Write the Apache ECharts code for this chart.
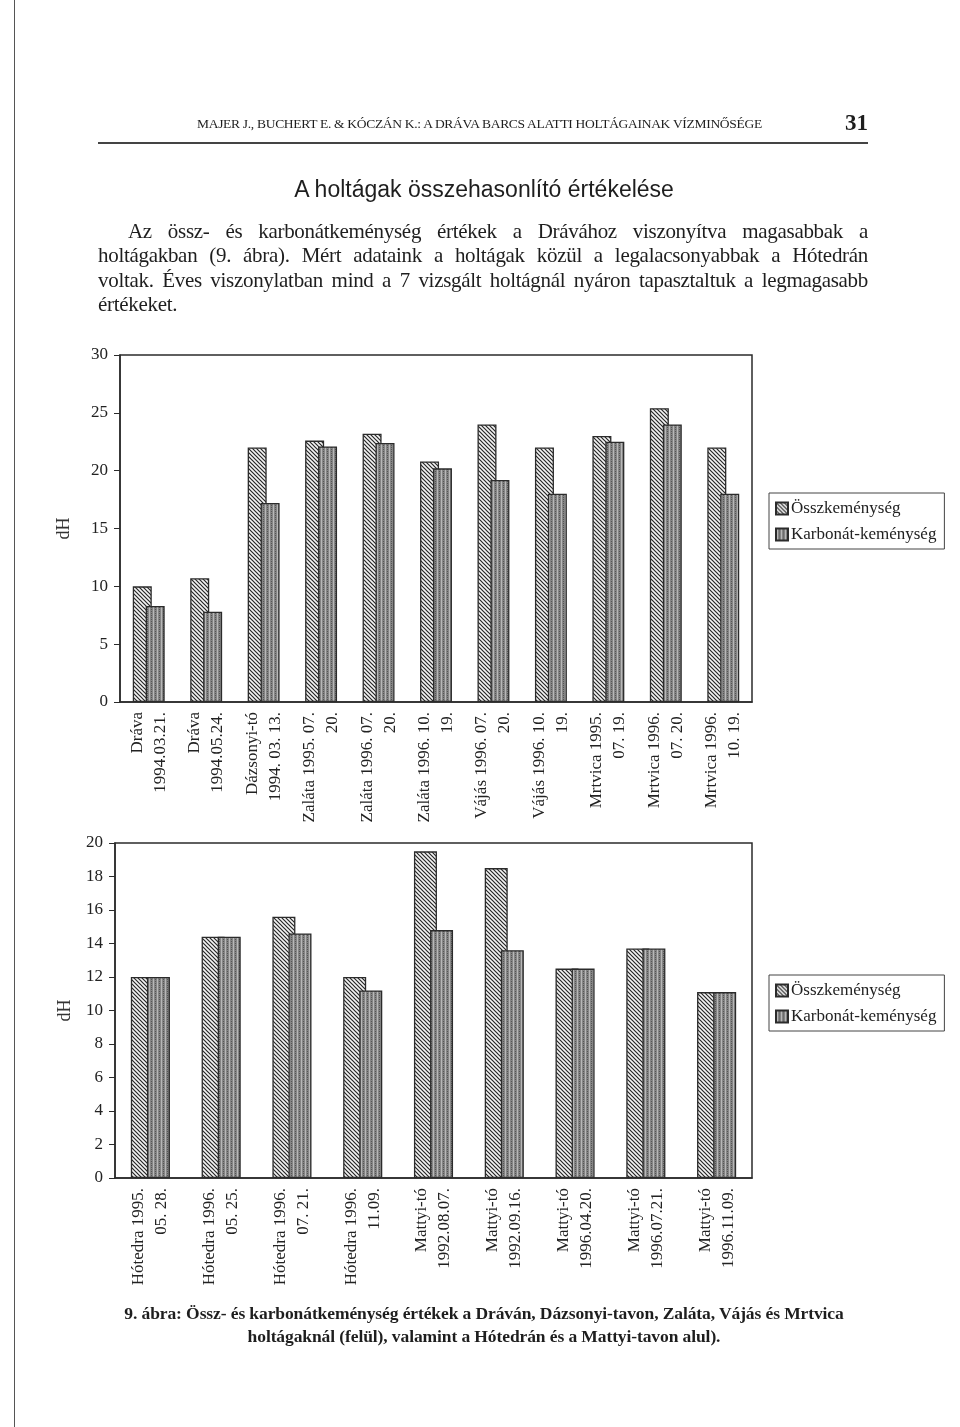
<!DOCTYPE html>
<html>
<head>
<meta charset="utf-8">
<script src="https://cdn.jsdelivr.net/npm/echarts@6/dist/echarts.min.js"></script>
<style>
  body { margin: 0; background: #fff; }
  #page { position: relative; width: 960px; height: 1427px; overflow: hidden; font-family: "Liberation Serif", "DejaVu Serif", serif; color: #1e1e1e; }
  #viz { position: absolute; left: 0; top: 0; width: 960px; height: 1427px; }
  .t { position: absolute; white-space: nowrap; }
  .jl { text-align: justify; text-align-last: justify; white-space: nowrap; }
</style>
</head>
<body>
<div id="page">
  <div id="viz"></div>
  <div style="position:absolute;left:14px;top:0;width:1px;height:1427px;background:#555"></div>
  <div class="t" style="left:197px;top:116px;font-size:13.5px;letter-spacing:-0.3px">MAJER J., BUCHERT E. &amp; KÓCZÁN K.: A DRÁVA BARCS ALATTI HOLTÁGAINAK VÍZMINŐSÉGE</div>
  <div class="t" style="left:845px;top:110px;font-size:23px;font-weight:bold">31</div>
  <div style="position:absolute;left:98px;top:142px;width:770px;border-top:2px solid #444"></div>
  <div class="t" style="left:0;width:968px;text-align:center;top:176px;font-family:'Liberation Sans',sans-serif;font-size:23px">A holtágak összehasonlító értékelése</div>
  <div style="position:absolute;left:98px;top:219px;width:770px;font-size:21px;letter-spacing:-0.3px;line-height:24.3px">
    <div class="jl" style="padding-left:30px">Az össz- és karbonátkeménység értékek a Drávához viszonyítva magasabbak a</div>
    <div class="jl">holtágakban (9. ábra). Mért adataink a holtágak közül a legalacsonyabbak a Hótedrán</div>
    <div class="jl">voltak. Éves viszonylatban mind a 7 vizsgált holtágnál nyáron tapasztaltuk a legmagasabb</div>
    <div>értékeket.</div>
  </div>
  <div style="position:absolute;left:0;width:968px;top:1302px;text-align:center;font-size:17.5px;font-weight:bold;line-height:23px;letter-spacing:-0.1px">
    <div>9. ábra: Össz- és karbonátkeménység értékek a Dráván, Dázsonyi-tavon, Zaláta, Vájás és Mrtvica</div>
    <div>holtágaknál (felül), valamint a Hótedrán és a Mattyi-tavon alul).</div>
  </div>
</div>
<script>
// felső ábra
const topCats = [
  'Dráva\n1994.03.21.', 'Dráva\n1994.05.24.', 'Dázsonyi-tó\n1994. 03. 13.',
  'Zaláta 1995. 07.\n20.', 'Zaláta 1996. 07.\n20.', 'Zaláta 1996. 10.\n19.',
  'Vájás 1996. 07.\n20.', 'Vájás 1996. 10.\n19.', 'Mrtvica 1995.\n07. 19.',
  'Mrtvica 1996.\n07. 20.', 'Mrtvica 1996.\n10. 19.'
]
const topOssz = [10, 10.7, 22, 22.6, 23.2, 20.8, 24, 22, 23, 25.4, 22]
const topKarb = [8.3, 7.8, 17.2, 22.1, 22.4, 20.2, 19.2, 18, 22.5, 24, 18]

// alsó ábra
const botCats = [
  'Hótedra 1995.\n05. 28.', 'Hótedra 1996.\n05. 25.', 'Hótedra 1996.\n07. 21.',
  'Hótedra 1996.\n11.09.', 'Mattyi-tó\n1992.08.07.', 'Mattyi-tó\n1992.09.16.',
  'Mattyi-tó\n1996.04.20.', 'Mattyi-tó\n1996.07.21.', 'Mattyi-tó\n1996.11.09.'
]
const botOssz = [12, 14.4, 15.6, 12, 19.5, 18.5, 12.5, 13.7, 11.1]
const botKarb = [12, 14.4, 14.6, 11.2, 14.8, 13.6, 12.5, 13.7, 11.1]

const OSSZ = 'Összkeménység'
const KARB = 'Karbonát-keménység'

// sraffozott minta
const hatch = (() => {
  const c = document.createElement('canvas')
  c.width = 4; c.height = 4
  const g = c.getContext('2d')
  g.fillStyle = '#f4f4f4'; g.fillRect(0, 0, 4, 4)
  g.strokeStyle = '#262626'; g.lineWidth = 1.2
  g.beginPath()
  g.moveTo(-1, -1); g.lineTo(5, 5)
  g.moveTo(-1, 3); g.lineTo(1, 5)
  g.moveTo(3, -1); g.lineTo(5, 1)
  g.stroke()
  return c
})()

// pontozott szürke minta
const stipple = (() => {
  const c = document.createElement('canvas')
  c.width = 4; c.height = 4
  const g = c.getContext('2d')
  g.fillStyle = '#858585'; g.fillRect(0, 0, 4, 4)
  g.fillStyle = '#b8b8b8'
  g.fillRect(1, 0, 1, 4)
  g.fillStyle = '#555'
  g.fillRect(3, 1, 1, 1); g.fillRect(3, 3, 1, 1)
  return c
})()

const font = '"Liberation Serif", "DejaVu Serif", serif'
const ink = '#2b2b2b'

const xAxisBase = (cats, gi) => ({
  type: 'category',
  gridIndex: gi,
  data: cats,
  axisLine: { lineStyle: { color: ink, width: 1.5 } },
  axisTick: { inside: false, length: 6, lineStyle: { color: ink } },
  axisLabel: { rotate: 90, color: '#222', fontFamily: font, fontSize: 17, lineHeight: 23, margin: 10 },
})

const yAxisBase = (gi, max, interval, gap) => ({
  type: 'value',
  gridIndex: gi,
  min: 0, max, interval,
  name: 'dH',
  nameLocation: 'middle',
  nameRotate: 90,
  nameGap: gap,
  nameTextStyle: { fontFamily: font, fontSize: 18, color: '#333' },
  axisLine: { show: true, lineStyle: { color: ink, width: 1.5 } },
  axisTick: { show: true, length: 6, lineStyle: { color: ink } },
  splitLine: { show: false },
  axisLabel: { color: '#222', fontFamily: font, fontSize: 17, margin: 12 },
})

const bar = (name, data, gi, pattern, width, gap) => ({
  name,
  type: 'bar',
  xAxisIndex: gi,
  yAxisIndex: gi,
  data,
  barWidth: width,
  barGap: gap,
  itemStyle: { color: { image: pattern, repeat: 'repeat' }, borderColor: ink, borderWidth: 1.3 },
})

const legendBase = (top) => ({
  orient: 'vertical',
  left: 769,
  top,
  data: [OSSZ, KARB],
  itemWidth: 12,
  itemHeight: 12,
  itemGap: 9,
  padding: [7, 8, 6, 6],
  borderColor: '#444',
  borderWidth: 1,
  selectedMode: false,
  textStyle: { fontFamily: font, fontSize: 17, color: '#222', padding: [0, 0, 0, -2] },
  icon: 'rect',
})

const myChart = echarts.init(document.getElementById('viz'), null, { renderer: 'canvas' })

myChart.setOption({
  animation: false,
  backgroundColor: '#fff',
  grid: [
    { left: 120, top: 355, width: 632, height: 347, show: true, borderColor: ink, borderWidth: 1.5 },
    { left: 115, top: 843, width: 637, height: 335, show: true, borderColor: ink, borderWidth: 1.5 },
  ],
  legend: [legendBase(493), legendBase(975)],
  xAxis: [xAxisBase(topCats, 0), xAxisBase(botCats, 1)],
  yAxis: [yAxisBase(0, 30, 5, 47), yAxisBase(1, 20, 2, 41)],
  series: [
    bar(OSSZ, topOssz, 0, hatch, 19, '-32%'),
    bar(KARB, topKarb, 0, stipple, 19, '-32%'),
    bar(OSSZ, botOssz, 1, hatch, 23, '-30%'),
    bar(KARB, botKarb, 1, stipple, 23, '-30%'),
  ],
})
</script>
</body>
</html>
